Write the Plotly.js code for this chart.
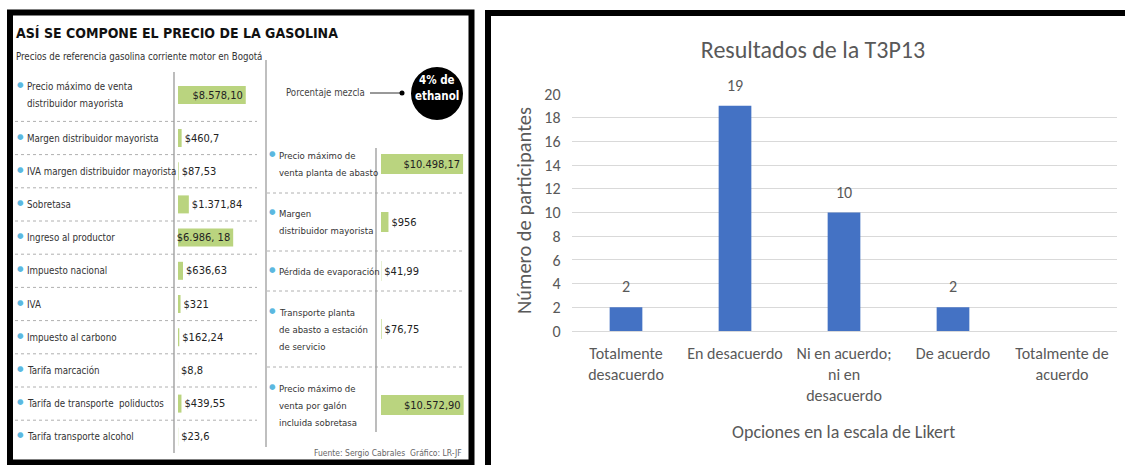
<!DOCTYPE html>
<html><head><meta charset="utf-8">
<script src="https://cdn.plot.ly/plotly-3.0.1.min.js"></script>
<style>html,body{margin:0;padding:0;background:#fff}</style>
</head><body><div id="chart" style="width:1125px;height:465px"></div>
<script>
// ---------- Bar chart (right panel) ----------
const likertCategories = ["Totalmente<br>desacuerdo", "En desacuerdo", "Ni en acuerdo;<br>ni en<br>desacuerdo", "De acuerdo", "Totalmente de<br>acuerdo"];
const likertCounts = [2, 19, 10, 2, null];
const chartTitle = "Resultados de la T3P13";
const xTitle = "Opciones en la escala de Likert";
const yTitle = "Número de participantes";

// ---------- Infographic (left panel) ----------
const infoTitle = "ASÍ SE COMPONE EL PRECIO DE LA GASOLINA";
const infoSubtitle = "Precios de referencia gasolina corriente motor en Bogotá";
const leftItems = ["Precio máximo de venta<br>distribuidor mayorista", "Margen distribuidor mayorista", "IVA margen distribuidor mayorista", "Sobretasa", "Ingreso al productor", "Impuesto nacional", "IVA", "Impuesto al carbono", "Tarifa marcación", "Tarifa de transporte  poliductos", "Tarifa transporte alcohol"];
const leftValues = [8578.10, 460.7, 87.53, 1371.84, 6986.18, 636.63, 321, 162.24, 8.8, 439.55, 23.6];
const leftLabels = ["$8.578,10", "$460,7", "$87,53", "$1.371,84", "$6.986, 18", "$636,63", "$321", "$162,24", "$8,8", "$439,55", "$23,6"];
const rightItems = ["Precio máximo de<br>venta planta de abasto", "Margen<br>distribuidor mayorista", "Pérdida de evaporación", "Transporte planta<br>de abasto a estación<br>de servicio", "Precio máximo de<br>venta por galón<br>incluida sobretasa"];
const rightValues = [10498.17, 956, 41.99, 76.75, 10572.90];
const rightLabels = ["$10.498,17", "$956", "$41,99", "$76,75", "$10.572,90"];
const blendLabel = "Porcentaje mezcla";
const blendValue = ["4% de", "ethanol"];
const sourceNote = "Fuente: Sergio Cabrales  Gráfico: LR-JF";

// ---------- helpers ----------
const W = 1125, H = 465;
const px = x => x / W;
const py = y => 1 - y / H;
const NARROW = "'Liberation Sans Narrow', 'DejaVu Sans Condensed', 'Arial Narrow', Roboto, sans-serif";
const CAL = "Carlito, Lato, 'Open Sans', sans-serif";
const GREY = '#595959';
const GREEN = '#bad47f';

function rowLayout(items, start, a, b) {
  const c = [], bounds = []; let y = start;
  items.forEach(t => { const n = t.split('<br>').length; const h = a + b * n; c.push(y + h / 2); y += h; bounds.push(y); });
  bounds.pop();
  return { c, bounds };
}
const L = rowLayout(leftItems, 68.6, 13.6, 19.6);
const R = rowLayout(rightItems, 135, 22, 18);

const traces = [
  {
    type: 'bar', x: likertCategories, y: likertCounts, xaxis: 'x', yaxis: 'y',
    width: 0.3, marker: { color: '#4472C4' }, hoverinfo: 'none'
  },
  {
    type: 'bar', orientation: 'h', x: leftValues, y: L.c, xaxis: 'x2', yaxis: 'y2',
    width: 18, marker: { color: GREEN }, text: leftLabels,
    textposition: leftValues.map(v => v > 5000 ? 'inside' : 'outside'),
    insidetextanchor: 'end', constraintext: 'none', cliponaxis: false,
    textfont: { family: NARROW, size: 11, color: '#222' }, hoverinfo: 'none'
  },
  {
    type: 'bar', orientation: 'h', x: rightValues, y: R.c, xaxis: 'x3', yaxis: 'y3',
    width: 20, marker: { color: GREEN }, text: rightLabels,
    textposition: rightValues.map(v => v > 5000 ? 'inside' : 'outside'),
    insidetextanchor: 'end', constraintext: 'none', cliponaxis: false,
    textfont: { family: NARROW, size: 11, color: '#222' }, hoverinfo: 'none'
  }
];

const annotations = [];
const shapes = [];
function note(x, y, text, font, extra) {
  annotations.push(Object.assign({ xref: 'paper', yref: 'paper', x: px(x), y: py(y), text: text, showarrow: false,
    xanchor: 'center', yanchor: 'middle', font: font }, extra || {}));
}

// right chart annotations
likertCounts.forEach((v, i) => {
  if (v === null) return;
  annotations.push({ xref: 'x', yref: 'y', x: likertCategories[i], y: v, text: String(v), showarrow: false,
    xanchor: 'center', yanchor: 'bottom', yshift: 9, font: { family: CAL, size: 16, color: GREY } });
});
note(843, 432, xTitle, { family: CAL, size: 18, color: GREY });
note(524, 211, yTitle, { family: CAL, size: 20.5, color: GREY }, { textangle: -90 });

// left panel texts
note(14, 33, '<b>' + infoTitle + '</b>', { family: NARROW, size: 14, color: '#111' }, { xanchor: 'left' });
note(14, 56, infoSubtitle, { family: NARROW, size: 9.6, color: '#333' }, { xanchor: 'left' });
note(464, 453, sourceNote, { family: NARROW, size: 8.5, color: '#666' }, { xanchor: 'right' });
note(367, 93, blendLabel, { family: NARROW, size: 9.6, color: '#444' }, { xanchor: 'right' });
note(437, 80, '<b>' + blendValue[0] + '</b>', { family: NARROW, size: 11.5, color: '#fff' });
note(437, 96, '<b>' + blendValue[1] + '</b>', { family: NARROW, size: 11.5, color: '#fff' });

const LINE_H = 17;
function addRows(items, centers, yref, xText, xBullet, size) {
  items.forEach((t, i) => {
    const lines = t.split('<br>');
    const n = lines.length;
    lines.forEach((ln, k) => {
      annotations.push({ xref: 'paper', yref: yref, x: px(xText), y: centers[i], yshift: -(k - (n - 1) / 2) * LINE_H,
        text: ln, showarrow: false, xanchor: 'left', yanchor: 'middle', align: 'left',
        font: { family: NARROW, size: size, color: '#333' } });
    });
    annotations.push({ xref: 'paper', yref: yref, x: px(xBullet), y: centers[i], yshift: (n - 1) / 2 * LINE_H + 2,
      text: '●', showarrow: false, xanchor: 'center', yanchor: 'middle',
      font: { family: 'DejaVu Sans', size: 7.5, color: '#5bb8e0' } });
  });
}
addRows(leftItems, L.c, 'y2', 25, 20, 9.7);
addRows(rightItems, R.c, 'y3', 277, 272, 9.5);

// separators
L.bounds.forEach(b => shapes.push({ type: 'line', xref: 'paper', yref: 'y2', x0: px(15), x1: px(257), y0: b, y1: b,
  line: { color: '#b0b0b0', width: 1, dash: 'dot' } }));
R.bounds.forEach(b => shapes.push({ type: 'line', xref: 'paper', yref: 'y3', x0: px(267), x1: px(463), y0: b, y1: b,
  line: { color: '#b0b0b0', width: 1, dash: 'dot' } }));

// vertical dividers
shapes.push({ type: 'line', xref: 'paper', yref: 'paper', x0: px(266), x1: px(266), y0: py(60), y1: py(447), line: { color: '#aaa', width: 1.5 } });
shapes.push({ type: 'line', xref: 'paper', yref: 'paper', x0: px(174), x1: px(174), y0: py(72), y1: py(453), line: { color: '#999', width: 1.3 } });
shapes.push({ type: 'line', xref: 'paper', yref: 'paper', x0: px(376), x1: px(376), y0: py(148), y1: py(432), line: { color: '#999', width: 1.3 } });

// blend callout
shapes.push({ type: 'line', xref: 'paper', yref: 'paper', x0: px(370), x1: px(402), y0: py(93), y1: py(93), line: { color: '#333', width: 1 } });
shapes.push({ type: 'circle', xref: 'paper', yref: 'paper', x0: px(399.5), x1: px(404.5), y0: py(95.5), y1: py(90.5), fillcolor: '#000', line: { width: 0 } });
shapes.push({ type: 'circle', xref: 'paper', yref: 'paper', x0: px(411), x1: px(463), y0: py(120), y1: py(67), fillcolor: '#000', line: { width: 0 } });

// frames
shapes.push({ type: 'rect', xref: 'paper', yref: 'paper', x0: px(10), x1: px(471.5), y0: py(462.5), y1: py(12.5), line: { color: '#000', width: 6 } });
shapes.push({ type: 'rect', xref: 'paper', yref: 'paper', x0: px(488), x1: px(1140), y0: py(480), y1: py(13), line: { color: '#000', width: 6 } });

const layout = {
  width: W, height: H, margin: { l: 0, r: 0, t: 0, b: 0 },
  paper_bgcolor: '#fff', plot_bgcolor: 'rgba(0,0,0,0)', showlegend: false,
  title: { text: chartTitle, x: px(813), y: py(50), xref: 'paper', yref: 'paper', xanchor: 'center', yanchor: 'middle',
    font: { family: CAL, size: 24, color: GREY } },
  xaxis: { domain: [px(571.5), px(1116.5)], type: 'category', range: [-0.5, 4.5], showgrid: false, showline: false, zeroline: false,
    ticks: '', tickfont: { family: CAL, size: 16, color: GREY }, ticklabelstandoff: 11, fixedrange: true, anchor: 'y' },
  yaxis: { domain: [py(331), py(94)], range: [0, 20], dtick: 2, gridcolor: '#d9d9d9', gridwidth: 1, zeroline: true,
    zerolinecolor: '#d9d9d9', zerolinewidth: 1, showline: false, ticks: '', tickfont: { family: CAL, size: 16, color: GREY },
    ticklabelstandoff: 10, fixedrange: true, anchor: 'x' },
  xaxis2: { domain: [px(178), px(257)], range: [0, 10000], visible: false, anchor: 'y2', fixedrange: true },
  yaxis2: { domain: [0, 1], range: [H, 0], visible: false, anchor: 'x2', fixedrange: true },
  xaxis3: { domain: [px(381), px(467)], range: [0, 11000], visible: false, anchor: 'y3', fixedrange: true },
  yaxis3: { domain: [0, 1], range: [H, 0], visible: false, anchor: 'x3', fixedrange: true },
  annotations: annotations, shapes: shapes
};

Plotly.newPlot('chart', traces, layout, { displayModeBar: false, staticPlot: true });
</script>
</body></html>
